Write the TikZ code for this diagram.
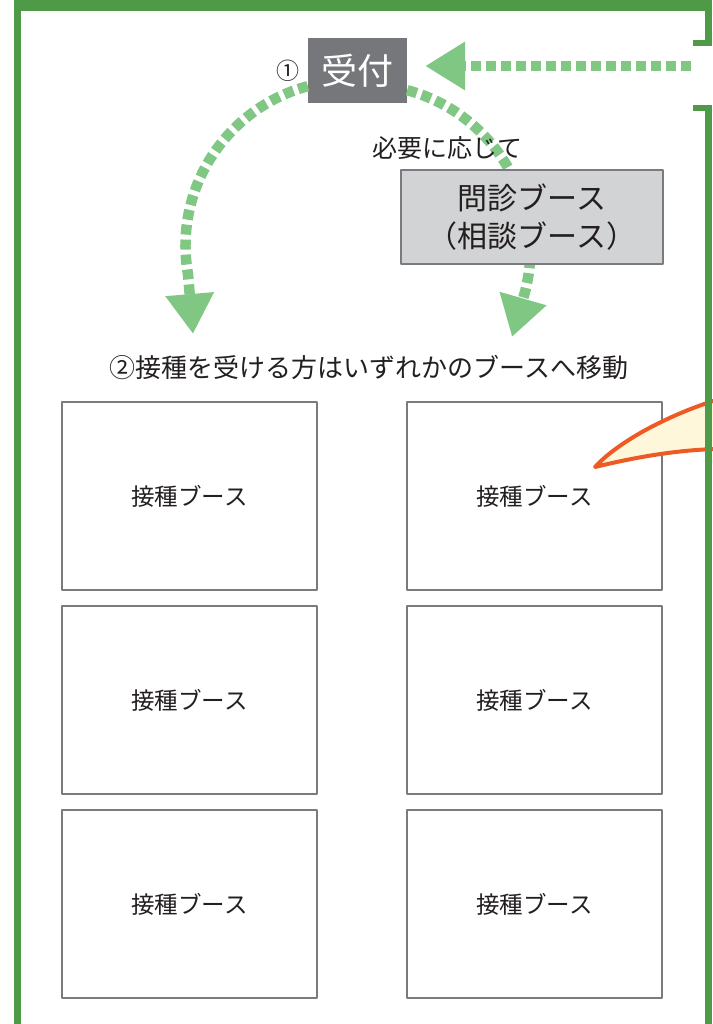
\documentclass[tikz,border=0pt]{standalone}
\usepackage{fontspec}
\setmainfont{Noto Sans CJK JP}
\usetikzlibrary{arrows.meta,positioning}
\definecolor{framegreen}{RGB}{78,154,71}
\definecolor{flowgreen}{RGB}{128,199,131}
\definecolor{deskgray}{RGB}{118,119,123}
\definecolor{linegray}{RGB}{122,123,126}
\definecolor{monshinfill}{RGB}{209,211,212}
\definecolor{tailorange}{RGB}{238,90,36}
\definecolor{tailyellow}{RGB}{255,247,217}
\definecolor{inkblack}{RGB}{35,31,32}

\begin{document}
\begin{tikzpicture}[x=1pt,y=1pt,line join=round,text=inkblack,
  flow/.style={draw=flowgreen,line width=10.5pt,dash pattern=on 10pt off 5pt,
    -{Triangle[length=40pt,width=46pt]}},
  booth/.style={draw=linegray,line width=2pt,fill=white,minimum width=255pt,
    minimum height=188pt,font=\fontsize{23.5}{28}\selectfont}]
  \useasboundingbox (0,0) rectangle (712,-1024);

  \node[fill=deskgray,text=white,minimum width=99pt,minimum height=65pt,
    font=\fontsize{36}{40}\selectfont] (uketsuke) at (357.5,-70.5) {受付};
  \node[left=8pt of uketsuke,inner sep=0pt,font=\fontsize{23}{26}\selectfont] (num1) {①};

  \coordinate (entry) at (691,-66);
  \coordinate (tipL) at (193,-334);
  \coordinate (tipR) at (512,-337);
  \draw[flow,shorten >=18pt] (entry) -- (entry -| uketsuke.east);
  \draw[flow] ([yshift=17pt]uketsuke.south west)
    arc[start angle=105,end angle=190,radius=165] -- (tipL);
  \draw[flow] ([yshift=13pt]uketsuke.south east)
    arc[start angle=75,end angle=-14,radius=166] -- (tipR);

  \node[font=\fontsize{25}{30}\selectfont] (asneeded) at (447,-148) {必要に応じて};
  \node[draw=linegray,fill=monshinfill,line width=2pt,minimum width=262pt,
    minimum height=94pt,align=center,font=\fontsize{30}{38}\selectfont]
    (monshin) at (532,-217) {問診ブース\\（相談ブース）};

  \node[font=\fontsize{26}{30}\selectfont] (move) at (369,-367)
    {②接種を受ける方はいずれかのブースへ移動};

  \node[booth] (boothA) at (189.5,-496) {接種ブース};
  \node[booth] (boothB) at (534.5,-496) {接種ブース};
  \node[booth] (boothC) at (189.5,-700) {接種ブース};
  \node[booth] (boothD) at (534.5,-700) {接種ブース};
  \node[booth] (boothE) at (189.5,-904) {接種ブース};
  \node[booth] (boothF) at (534.5,-904) {接種ブース};

  % balloon tail from the next panel
  \filldraw[draw=tailorange,fill=tailyellow,line width=4pt]
    (716,-400) .. controls (660,-418) and (615,-445) .. (595,-467)
    .. controls (640,-456) and (680,-450) .. (716,-449);
  % frame, open on the right for the entrance
  \fill[framegreen] (14,0) rectangle (712,-11);
  \fill[framegreen] (14,-11) rectangle (21,-1024);
  \fill[framegreen] (705,-11) rectangle (712,-46);
  \fill[framegreen] (693,-40) rectangle (712,-46);
  \fill[framegreen] (693,-105) rectangle (712,-111);
  \fill[framegreen] (705,-105) rectangle (712,-1024);
\end{tikzpicture}
\end{document}
